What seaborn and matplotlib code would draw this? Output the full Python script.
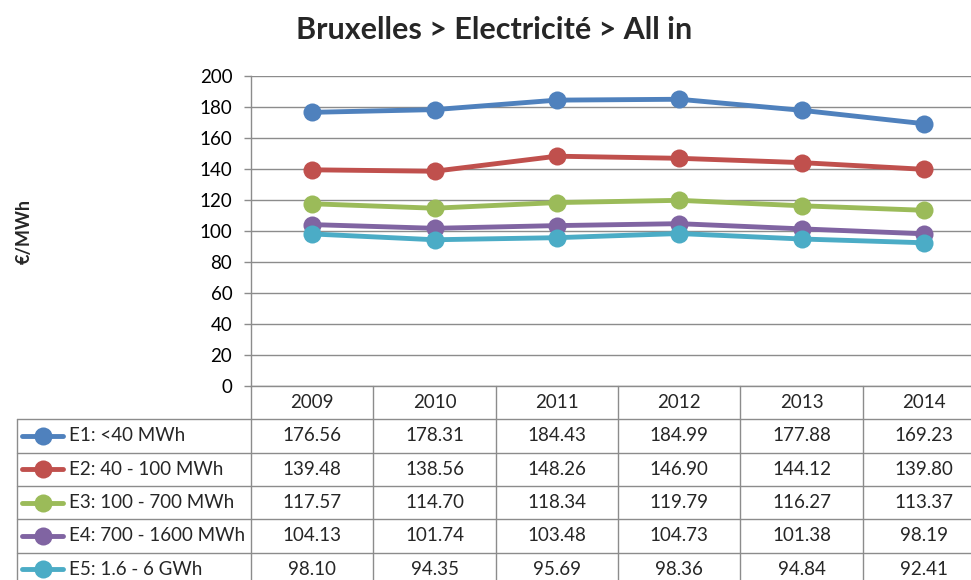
import numpy as np
import pandas as pd
import matplotlib
matplotlib.use('Agg')
import matplotlib.pyplot as plt
import seaborn as sns

# Donnees du graphique
annees = ['2009', '2010', '2011', '2012', '2013', '2014']
series = ['E1: <40 MWh', 'E2: 40 - 100 MWh', 'E3: 100 - 700 MWh',
          'E4: 700 - 1600 MWh', 'E5: 1.6 - 6 GWh']
e1 = [176.56, 178.31, 184.43, 184.99, 177.88, 169.23]
e2 = [139.48, 138.56, 148.26, 146.90, 144.12, 139.80]
e3 = [117.57, 114.70, 118.34, 119.79, 116.27, 113.37]
e4 = [104.13, 101.74, 103.48, 104.73, 101.38, 98.19]
e5 = [98.10, 94.35, 95.69, 98.36, 94.84, 92.41]
valeurs = [e1, e2, e3, e4, e5]
couleurs = ['#4F81BD', '#C0504D', '#9BBB59', '#8064A2', '#4BACC6']

# Format long pour seaborn
df = pd.DataFrame({
    'serie': np.repeat(series, len(annees)),
    'pos': np.tile(np.arange(len(annees)), len(series)),
    'valeur': np.concatenate(valeurs),
})

sns.set_style('white')
plt.rcParams['font.family'] = ['Lato', 'DejaVu Sans']
gris = '#8c8c8c'
fs = 13.5

W, H = 971, 580
ax_left, ax_bottom_px, ax_w, ax_h = 251, 386, 734, 310
fig = plt.figure(figsize=(W / 100, H / 100), dpi=100)
ax = fig.add_axes([ax_left / W, (H - ax_bottom_px) / H, ax_w / W, ax_h / H])

sns.lineplot(data=df, x='pos', y='valeur', hue='serie', palette=couleurs,
             hue_order=series, marker='o', markersize=13, markeredgewidth=0,
             linewidth=3.5, legend=False, ax=ax)

ax.set_xlim(-0.5, len(annees) - 0.5)
ax.set_ylim(0, 200)
ax.set_yticks(range(0, 201, 20))
ax.set_xticks([])
ax.set_xlabel('')
ax.set_ylabel('')
ax.yaxis.grid(True, color=gris, linewidth=1)
ax.set_axisbelow(True)
for s in ['top', 'right']:
    ax.spines[s].set_visible(False)
for s in ['left', 'bottom']:
    ax.spines[s].set_color(gris)
    ax.spines[s].set_linewidth(1)
ax.tick_params(axis='y', left=True, length=5, width=1, color=gris,
               pad=8.5, labelsize=fs, labelcolor='black')

# Tableau de donnees sous le graphique
px_unit = ax_w / len(annees)
def px2x(px):
    return (px - ax_left) / px_unit - 0.5

row_h = 33.3 / ax_h
trans = ax.get_xaxis_transform()
x_tab = px2x(17)
bas = -7 * row_h
kw = dict(color=gris, linewidth=1, clip_on=False, transform=trans)

for k in range(len(annees) + 1):
    ax.plot([k - 0.5, k - 0.5], [0, bas], **kw)
for j in range(1, len(series) + 2):
    ax.plot([x_tab, len(annees) + 0.5], [-j * row_h] * 2, **kw)
ax.plot([x_tab, x_tab], [-row_h, bas], **kw)

for i, a in enumerate(annees):
    ax.text(i, -0.5 * row_h, a, transform=trans, ha='center', va='center',
            fontsize=fs)

for j, (nom, vals, c) in enumerate(zip(series, valeurs, couleurs)):
    yc = -(j + 1.5) * row_h
    ax.plot([px2x(22), px2x(63)], [yc, yc], color=c, linewidth=3.5,
            clip_on=False, transform=trans)
    ax.plot([px2x(43)], [yc], marker='o', markersize=13, markeredgewidth=0,
            color=c, clip_on=False, transform=trans)
    ax.text(px2x(69), yc, nom, transform=trans, ha='left', va='center',
            fontsize=fs)
    for i, v in enumerate(vals):
        ax.text(i, yc, f'{v:.2f}', transform=trans, ha='center', va='center',
                fontsize=fs)

fig.text(494 / W, 1 - 30 / H, 'Bruxelles > Electricité > All in',
         ha='center', va='center', fontsize=22, fontweight='bold')
fig.text(24 / W, 1 - 232 / H, '€/MWh', rotation=90, ha='center',
         va='center', fontsize=13, fontweight='bold')

fig.savefig('out.png', dpi=100)
